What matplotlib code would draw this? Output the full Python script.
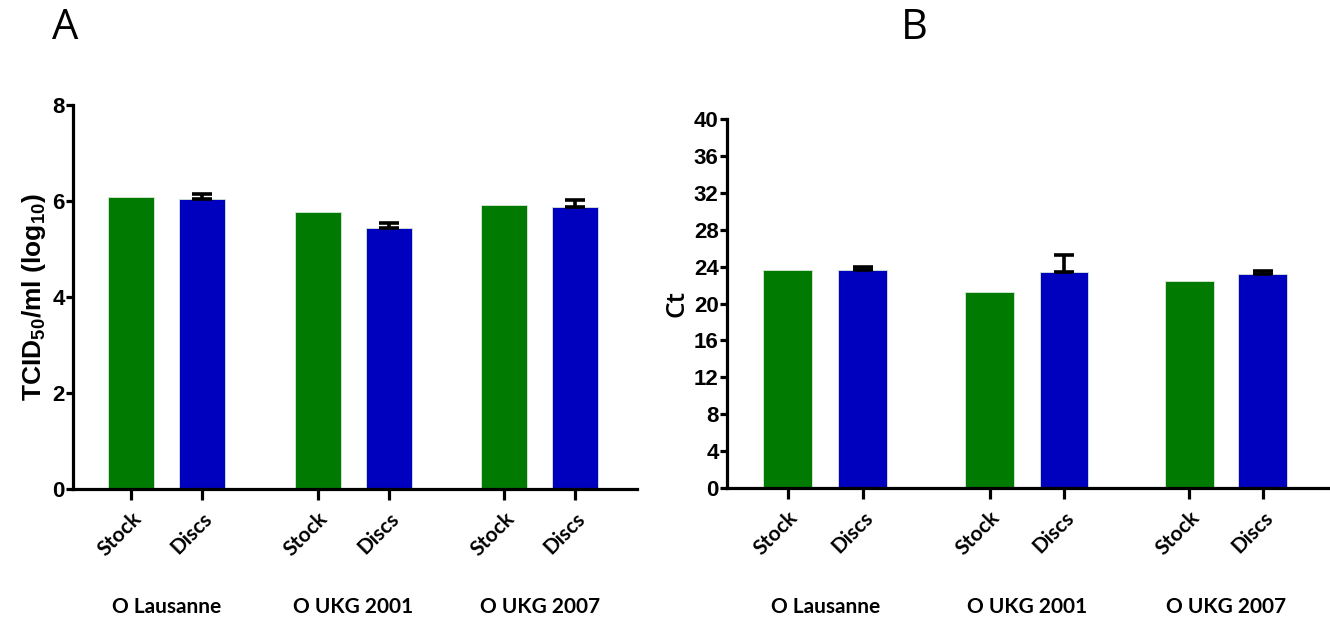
import numpy as np
import matplotlib
matplotlib.use("Agg")
from matplotlib import pyplot as plt
from matplotlib import transforms

plt.rcParams['mathtext.default'] = 'regular'

conditions = ["Stock", "Discs"]
strains = ["O Lausanne", "O UKG 2001", "O UKG 2007"]

titre_stock = [6.08, 5.77, 5.93]
titre_discs = [6.04, 5.45, 5.88]
titre_discs_err = [0.10, 0.10, 0.14]

ct_stock = [23.6, 21.3, 22.4]
ct_discs = [23.6, 23.4, 23.2]
ct_discs_err = [0.4, 1.9, 0.35]

GREEN = "#007a00"
BLUE = "#0000bf"
NUM_FONT = ['Liberation Sans Narrow', 'Liberation Sans']
CAT_FONT = ['Lato', 'DejaVu Sans']


def draw_panel(ax, stock, discs, discs_err, pos, xlim, ylim, yticks, ylabel, ylab_font, ylab_weight,
               ylab_size, group_y):
    heights = []
    for s, d in zip(stock, discs):
        heights += [s, d]
    colors = [GREEN, BLUE] * len(stock)
    ax.bar(pos, heights, width=0.65, color=colors, edgecolor="#d8e8d8", linewidth=0.6, zorder=2)
    blue_pos = pos[1::2]
    ax.errorbar(blue_pos, discs, yerr=[np.zeros(len(discs)), discs_err], fmt="none",
                ecolor="black", elinewidth=2.6, capsize=7, capthick=2.6, zorder=3)

    ax.set_xlim(*xlim)
    ax.set_ylim(*ylim)
    ax.set_yticks(yticks)
    ax.set_yticklabels([str(t) for t in yticks], family=NUM_FONT, fontweight="bold", fontsize=16)
    ax.set_xticks(pos)
    ax.set_xticklabels(conditions * len(stock), rotation=45, ha="right", rotation_mode="anchor",
                       family=CAT_FONT, fontweight="bold", fontsize=15)
    offset = transforms.ScaledTranslation(9 / 72, -3 / 72, ax.figure.dpi_scale_trans)
    for lab in ax.get_xticklabels():
        lab.set_transform(lab.get_transform() + offset)

    for side in ["top", "right"]:
        ax.spines[side].set_visible(False)
    for side in ["left", "bottom"]:
        ax.spines[side].set_linewidth(2.3)
        ax.spines[side].set_capstyle("projecting")
    ax.tick_params(axis="y", width=2.3, length=5, pad=1)
    ax.tick_params(axis="x", width=2.3, length=8, pad=6)
    ax.set_ylabel(ylabel, family=ylab_font, fontweight=ylab_weight, fontsize=ylab_size, labelpad=3)

    trans = transforms.blended_transform_factory(ax.transData, ax.transAxes)
    for i, name in enumerate(strains):
        cx = (pos[2 * i] + pos[2 * i + 1]) / 2
        ax.text(cx, group_y, name, transform=trans, ha="center", va="center",
                family=CAT_FONT, fontweight="bold", fontsize=15)


fig = plt.figure(figsize=(13.3, 6.2), dpi=100)
ax_a = fig.add_axes([0.0549, 0.2113, 0.424, 0.619])
ax_b = fig.add_axes([0.5466, 0.2129, 0.452, 0.595])

pos_a = np.array([0, 1, 2.63, 3.63, 5.26, 6.26])
pos_b = np.array([0, 1, 2.69, 3.68, 5.35, 6.33])

draw_panel(ax_a, titre_stock, titre_discs, titre_discs_err, pos_a, (-0.82, 7.13), (0, 8),
           [0, 2, 4, 6, 8], "TCID$_{50}$/ml (log$_{10}$)", ['Liberation Sans'], "bold", 19, -0.307)
draw_panel(ax_b, ct_stock, ct_discs, ct_discs_err, pos_b, (-0.81, 7.2), (0, 40),
           list(range(0, 41, 4)), "Ct", ['Open Sans'], "semibold", 19, -0.322)

fig.text(0.039, 0.955, "A", fontsize=30, family=['Open Sans'], va="center", ha="left")
fig.text(0.677, 0.955, "B", fontsize=30, family=['Open Sans'], va="center", ha="left")

fig.savefig("out.png", dpi=100)
